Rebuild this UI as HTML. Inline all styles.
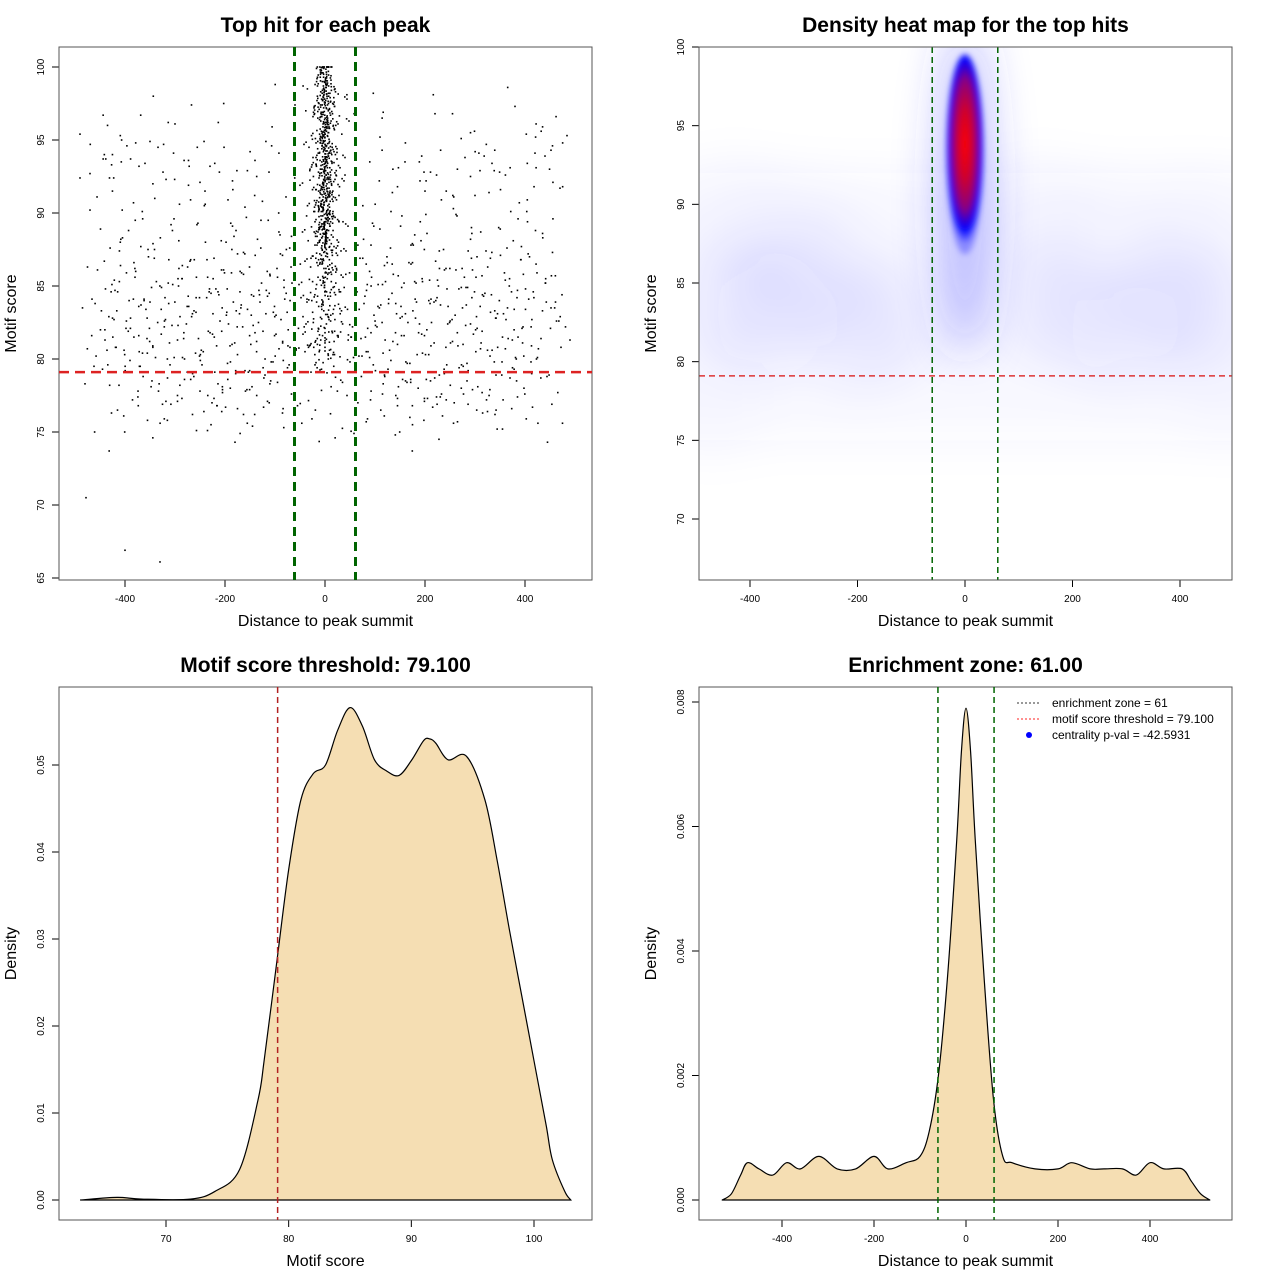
<!DOCTYPE html>
<html><head><meta charset="utf-8"><style>
html,body{margin:0;padding:0;background:#fff}
svg{display:block;font-family:"Liberation Sans",sans-serif}
</style></head><body>
<svg id="chart" width="1280" height="1280" viewBox="0 0 1280 1280" xmlns="http://www.w3.org/2000/svg">
<defs>
<filter id="blur8" filterUnits="userSpaceOnUse" x="0" y="0" width="1280" height="1280"><feGaussianBlur stdDeviation="22"/></filter>
<filter id="blur3" filterUnits="userSpaceOnUse" x="0" y="0" width="1280" height="1280"><feGaussianBlur stdDeviation="3"/></filter>
<radialGradient id="core" cx="0.5" cy="0.45" r="0.5">
<stop offset="0" stop-color="#ff0000"/>
<stop offset="0.35" stop-color="#d0002a"/>
<stop offset="0.65" stop-color="#8a0080"/>
<stop offset="0.85" stop-color="#0000ff"/>
<stop offset="1" stop-color="#0000ff" stop-opacity="0.3"/>
</radialGradient>
<clipPath id="clipTR"><rect x="699" y="47" width="533" height="533"/></clipPath>
</defs>
<g id="root"></g>
</svg>
<script>
// ---------- data ----------
const bgX = [-485,-470,-462,-455,-440,-431,-420,-412,-405,-398,-390,-380,-372,-365,-350,-341,-333,-320,-311,-302,-290,-281,-270,-262,-251,-240,-231,-222,-210,-201,-190,-182,-171,-160,-151,-140,-131,-120,-112,-101,-92,-85,-75,-66,-480,-466,-449,-436,-425,-409,-395,-383,-368,-356,-344,-327,-315,-306,-294,-285,-273,-258,-246,-236,-225,-214,-205,-193,-185,-175,-163,-155,-146,-135,-124,-115,-104,-96,-88,-78,-70,70,78,86,95,104,115,126,134,145,153,164,175,183,195,204,213,225,233,244,255,264,275,284,295,303,314,325,334,345,355,364,375,384,394,405,413,424,435,444,455,463,474,484,490,74,83,92,101,112,121,132,141,152,161,172,181,192,201,212,223,231,242,251,262,273,282,291,302,311,322,331,342,351,362,373,381,392,401,412,421,432,441,452,461,472,481,-475,-445,-415,-385,-355,-325,-295,-265,-235,-205,-175,-145,-115,-85,85,115,145,175,205,235,265,295,325,355,385,415,445,475,-250,340,-478,-400,-330,-180,-60,110,220,380,455,-490,-300,-120,160,280,420,-470,-350,-230,-140,190,310,440,-490,-360,-250,200,300,470];
const bgY = [83.5,90.2,79.5,86.1,81.3,92.4,84.7,78.2,88.3,82.1,79.9,85.6,93.2,80.4,83.9,87.5,77.8,84.2,81.1,89.6,82.9,78.6,86.7,83.3,80.2,91.5,84.8,77.3,82.6,85.9,80.9,88.4,83.1,79.2,86.3,81.8,84.4,78.9,92.8,83.6,80.7,87.1,79.4,85.2,78.3,84.1,88.9,80.6,82.8,86.4,79.1,90.7,83.7,81.4,87.9,84.9,78.7,82.3,85.5,80.1,93.6,83.2,79.6,86.8,81.7,84.6,77.9,82.4,89.1,80.3,85.8,83.4,78.1,88.2,81.9,84.3,79.8,86.2,82.7,91.1,80.8,86.9,83.8,80.5,89.3,82.2,85.1,79.3,84.5,91.8,81.6,78.4,86.6,83.9,80.4,88.6,82.5,85.4,77.6,84.8,81.2,89.8,83.5,79.7,86.1,82.9,85.7,80.6,93.4,83.1,81.5,87.6,79.4,84.2,82.1,89.4,80.9,85.9,83.3,78.8,87.3,82.6,84.4,95.3,81.3,80.2,84.7,87.8,82.3,79.1,85.3,90.1,81.8,83.6,78.5,86.5,82.8,88.1,80.3,84.1,77.4,83.7,86.2,81.1,89.9,79.6,84.9,82.4,85.6,80.7,87.4,83.2,78.9,91.6,82.7,84.6,80.1,86.8,83.4,79.8,88.8,81.4,85.2,94.3,83.9,80.8,82.2,86.3,79.3,76.5,77.2,75.8,76.9,77.5,76.2,75.1,77.7,76.6,75.4,77.1,76.3,75.9,77.6,76.8,75.5,77.3,76.1,75.7,77.9,76.4,75.2,77.4,76.7,74.3,75.6,77.8,76.2,70.5,66.9,66.1,74.3,97.4,95.2,96.8,97.3,94.6,95.4,96.1,97.5,93.5,93.8,94.1,92.7,94.9,93.2,93.6,92.2,92.9,93.9,92.4,93.4,92.1,91.5,91.2,91.7,91.3,91.1];
const clX = [-8,3,12,-15,21,-3,7,-22,15,-11,26,1,-27,9,-6,18,-18,4,30,-1,-12,13,-25,6,23,-9,-4,17,-20,10,-14,2,27,-7,14,-17,5,-2,19,-24,8,-10,24,0,-30,11,-5,16,-13,28,-19,3,-8,20,-16,6,-1,12,-26,22,-3,9,-21,15,-11,1,25,-6,13,-15,4,-23,18,-9,7,-2,29,-18,10,-12,2,-28,16,-4,21,-7,8,-14,0,19,-20,11,-5,14,-10,5,-16,23,-1,-35,40,-45,36,-38,48,-50,42,33,-33,-42,46,-48,52,38,-40,44,-36,35,-55,58,-52,55,-58,45,-44,31,-31,50];
const clY = [99.8,99.5,99.1,98.7,98.3,97.9,97.5,97.2,96.8,96.4,96.1,95.7,95.3,94.9,94.6,94.2,93.8,93.5,93.1,92.7,92.4,92.0,91.6,91.3,90.9,90.5,90.2,89.8,89.4,89.1,88.7,88.4,88.0,87.6,87.3,99.9,98.9,98.1,97.3,96.6,95.9,95.1,94.4,93.7,93.0,92.3,91.6,90.8,90.1,89.4,88.6,87.9,99.6,98.5,97.7,96.2,95.5,94.1,93.3,92.6,91.9,91.1,90.4,89.6,88.9,88.2,87.1,86.5,85.8,99.3,98.0,96.9,95.8,94.8,93.9,92.8,91.8,90.7,89.9,89.2,88.3,86.9,86.1,85.2,84.4,83.6,82.7,81.9,81.1,80.3,79.6,96.7,95.2,93.4,91.4,89.7,87.8,86.2,84.9,90.5,93.8,88.7,85.6,82.4,96.3,91.9,87.4,83.3,80.8,94.7,89.1,84.2,81.5,92.2,86.7,97.8,83.9,78.4,76.8,74.9,85.1,82.2,80.6,83.4,81.7,84.6,80.9,79.8];
const blobX = [0,-440,-360,-290,-200,-120,-430,-330,-230,120,210,300,380,450,140,260,420,-470,480];
const blobY = [93.5,84,83,85,82,83,89,88,87,84,83,82,84,83,89,88,88,78,79];
const blobW = [0,0.05,0.06,0.045,0.05,0.04,0.025,0.025,0.02,0.04,0.05,0.045,0.055,0.04,0.025,0.02,0.025,0.02,0.02];
const msX = [63,66,68,72,74,76,77.5,78,79,80,81,82,83,84,85,86,87,88,89,90,91,91.5,92,93,94.5,96,97,98,99,100,101,101.5,102.5,103];
const msY = [0,0.0003,0.0001,0.0001,0.001,0.0035,0.0115,0.016,0.027,0.038,0.046,0.049,0.05,0.054,0.0566,0.0545,0.0506,0.0493,0.0488,0.0505,0.0528,0.053,0.0525,0.0506,0.051,0.046,0.039,0.031,0.0235,0.016,0.0085,0.0046,0.001,0];
const dX = [-530,-510,-490,-475,-450,-420,-390,-360,-320,-280,-240,-200,-170,-130,-100,-80,-60,-40,-20,-10,0,10,20,40,60,80,100,150,200,230,270,300,340,370,400,430,470,490,510,530];
const dY = [0,0.0001,0.0004,0.0006,0.0005,0.0004,0.0006,0.0005,0.0007,0.0005,0.0005,0.0007,0.0005,0.0006,0.0007,0.0011,0.002,0.0036,0.0058,0.0072,0.0079,0.0072,0.0058,0.0035,0.0016,0.0007,0.0006,0.0005,0.0005,0.0006,0.0005,0.0005,0.0005,0.0004,0.0006,0.0005,0.0005,0.0003,0.0001,0];
const ticksTLx=[-400,-200,0,200,400], ticksTLy=[65,70,75,80,85,90,95,100];
const ticksTRx=[-400,-200,0,200,400], ticksTRy=[70,75,80,85,90,95,100];
const ticksBLx=[70,80,90,100], ticksBLy=[0,0.01,0.02,0.03,0.04,0.05];
const ticksBRx=[-400,-200,0,200,400], ticksBRy=[0,0.002,0.004,0.006,0.008];

// ---------- helpers ----------
const NS='http://www.w3.org/2000/svg';
const root=document.getElementById('root');
function mk(tag,attrs,parent,text){const e=document.createElementNS(NS,tag);for(const k in attrs)e.setAttribute(k,attrs[k]);if(text!==undefined)e.textContent=text;(parent||root).appendChild(e);return e;}
function lin(d0,d1,p0,p1){return v=>p0+(v-d0)*(p1-p0)/(d1-d0);}
function smooth(P){let d='M'+P[0][0].toFixed(1)+','+P[0][1].toFixed(1);
  for(let i=0;i<P.length-1;i++){const p0=P[Math.max(0,i-1)],p1=P[i],p2=P[i+1],p3=P[Math.min(P.length-1,i+2)];
    const c1=[p1[0]+(p2[0]-p0[0])/6,p1[1]+(p2[1]-p0[1])/6],c2=[p2[0]-(p3[0]-p1[0])/6,p2[1]-(p3[1]-p1[1])/6];
    d+=` C${c1[0].toFixed(1)},${c1[1].toFixed(1)} ${c2[0].toFixed(1)},${c2[1].toFixed(1)} ${p2[0].toFixed(1)},${p2[1].toFixed(1)}`;}
  return d+' Z';}

function panel(name,box,title,xt,yt,sx,sy,xticks,yticks,xfmt,yfmt){
  const g=mk('g',{});
  
  
  const t=mk('text',{x:(box[0]+box[2])/2,y:box[1]-15,'text-anchor':'middle','font-size':21,'font-weight':'bold'},g,title);
  
  
  const xa=mk('g',{},g);
  
  
  mk('line',{x1:sx(xticks[0]),x2:sx(xticks[xticks.length-1]),y1:box[3],y2:box[3],stroke:'#000'},xa);
  xticks.forEach(v=>{const x=sx(v);mk('line',{x1:x,x2:x,y1:box[3],y2:box[3]+7,stroke:'#000'},xa);
    const l=mk('text',{x:x,y:box[3]+22,'text-anchor':'middle','font-size':10},xa,xfmt(v));
    
    });
  const ya=mk('g',{},g);
  
  
  mk('line',{x1:box[0],x2:box[0],y1:sy(yticks[0]),y2:sy(yticks[yticks.length-1]),stroke:'#000'},ya);
  yticks.forEach(v=>{const y=sy(v);mk('line',{x1:box[0]-7,x2:box[0],y1:y,y2:y,stroke:'#000'},ya);
    const l=mk('text',{x:box[0]-15,y:y,'text-anchor':'middle','font-size':10,transform:`rotate(-90 ${box[0]-15} ${y})`},ya,yfmt(v));
    
    });
  const xl=mk('text',{x:(box[0]+box[2])/2,y:box[3]+46,'text-anchor':'middle','font-size':16},g,xt);
  
  
  const yx=box[0]-43, yy=(box[1]+box[3])/2;
  const yl=mk('text',{x:yx,y:yy,'text-anchor':'middle','font-size':16,transform:`rotate(-90 ${yx} ${yy})`},g,yt);
  
  
  return g;
}
function frame(g,box){const r=mk('rect',{x:box[0],y:box[1],width:box[2]-box[0],height:box[3]-box[1],fill:'none',stroke:'#555'},g);
  
  }
function vline(g,x,y0,y1,col,w,dash,name){const l=mk('line',{x1:x,x2:x,y1:y0,y2:y1,stroke:col,'stroke-width':w,'stroke-dasharray':dash},g);
  
  }
function hline(g,y,x0,x1,col,w,dash,name){const l=mk('line',{x1:x0,x2:x1,y1:y,y2:y,stroke:col,'stroke-width':w,'stroke-dasharray':dash},g);
  
  }
const intf=v=>String(v);

// ---------- Top-left scatter ----------
{const box=[59,47,592,580];
 const sx=lin(0,400,325,525), sy=lin(100,65,67,578);
 const g=panel('scatter-panel',box,'Top hit for each peak','Distance to peak summit','Motif score',sx,sy,ticksTLx,ticksTLy,intf,intf);
 const pts=mk('g',{fill:'#000'},g);
 
 
 const draw=(X,Y)=>{const n=Math.min(X.length,Y.length);for(let i=0;i<n;i++){
   const xv=X[i], yv=Y[i]; if(!isFinite(xv)||!isFinite(yv)||yv<65)continue;
   const p=mk('rect',{x:sx(xv)-0.8,y:sy(yv)-0.8,width:1.6,height:1.6},pts);
   
   }};
 draw(bgX,bgY); draw(clX,clY);
 // extra mirrored / shifted renderings of the same samples to reproduce point density
 draw(bgX.map(v=>-v*0.97),bgY.map(v=>v>72?v-0.6:NaN));
 draw(bgX.map(v=>v*0.93+12),bgY.map(v=>v>72?v+1.3:NaN));
 draw(bgX.map(v=>-v*0.88-9),bgY.map(v=>v>72?v+0.7:NaN));
 for(let k=0;k<6;k++){const s=[0.6,-0.8,0.35,-0.45,0.9,-0.2][k], o=[0.35,0.7,-0.3,1.0,0.15,-0.55][k];
   draw(clX.map(v=>v*s),clY.map(v=>Math.min(100,v+o)));}
 frame(g,box);
 vline(g,sx(-61),box[1],box[3],'#006400',3,'9 6','enrichment-left-line');
 vline(g,sx(61),box[1],box[3],'#006400',3,'9 6','enrichment-right-line');
 hline(g,sy(79.1),box[0],box[2],'#dd2222',2.5,'10 6','threshold-line');
}
// ---------- Top-right heat map ----------
{const box=[699,47,1232,580];
 const sx=lin(0,400,965,1180), sy=lin(100,70,47,519);
 const g=panel('heatmap-panel',box,'Density heat map for the top hits','Distance to peak summit','Motif score',sx,sy,ticksTRx,ticksTRy,intf,intf);
 const hm=mk('g',{'clip-path':'url(#clipTR)'},g);
 
 
 const bg=mk('g',{filter:'url(#blur8)'},hm);
 blobX.forEach((x,i)=>{if(i===0)return;
   const e=mk('ellipse',{cx:sx(x),cy:sy(blobY[i]),rx:55,ry:65,fill:'#3c3cff','fill-opacity':blobW[i]},bg);
   
   });
 const band=mk('rect',{x:640,y:sy(92),width:650,height:sy(75)-sy(92),fill:'#6a6aff','fill-opacity':0.04},bg);
 
 
 const cx=sx(blobX[0]), cy=sy(blobY[0]);
 const hg=mk('g',{filter:'url(#blur8)'},hm);
 const h=mk('ellipse',{cx:cx,cy:cy+40,rx:26,ry:165,fill:'#4040ff','fill-opacity':0.35},hg);
 
 
 const cg=mk('g',{filter:'url(#blur3)'},hm);
 const c=mk('ellipse',{cx:cx,cy:cy+5,rx:19,ry:100,fill:'url(#core)'},cg);
 
 
 vline(g,sx(-61),box[1],box[3],'#006400',1.5,'6 4','enrichment-left-line');
 vline(g,sx(61),box[1],box[3],'#006400',1.5,'6 4','enrichment-right-line');
 hline(g,sy(79.1),box[0],box[2],'#dd3333',1.5,'6 4','threshold-line');
 const fr=mk('rect',{x:box[0],y:box[1],width:533,height:533,fill:'none',stroke:'#555'},g);
 
 
}
// ---------- Bottom-left density ----------
{const box=[59,687,592,1220];
 const sx=lin(70,100,166,534), sy=lin(0,0.05,1200,765);
 const g=panel('score-density-panel',box,'Motif score threshold: 79.100','Motif score','Density',sx,sy,ticksBLx,ticksBLy,intf,v=>v.toFixed(2));
 const p=mk('path',{d:smooth(msX.map((x,i)=>[sx(x),sy(msY[i])])),fill:'#f5deb3',stroke:'#000','stroke-width':1.2},g);
 
 
 frame(g,box);
 vline(g,sx(79.1),box[1],box[3],'#b22222',1.5,'6 4','threshold-line');
}
// ---------- Bottom-right density ----------
{const box=[699,687,1232,1220];
 const sx=lin(0,400,966,1150), sy=lin(0,0.008,1200,702);
 const g=panel('distance-density-panel',box,'Enrichment zone: 61.00','Distance to peak summit','Density',sx,sy,ticksBRx,ticksBRy,intf,v=>v.toFixed(3));
 const p=mk('path',{d:smooth(dX.map((x,i)=>[sx(x),sy(dY[i])])),fill:'#f5deb3',stroke:'#000','stroke-width':1.2,'stroke-linejoin':'round'},g);
 
 
 frame(g,box);
 vline(g,sx(-61),box[1],box[3],'#006400',1.5,'6 4','enrichment-left-line');
 vline(g,sx(61),box[1],box[3],'#006400',1.5,'6 4','enrichment-right-line');
 const lg=mk('g',{},g);
 
 
 const items=[['enrichment zone = 61','#333','line'],['motif score threshold = 79.100','#ff2020','line'],['centrality p-val = -42.5931','#0000ff','dot']];
 items.forEach((it,i)=>{const y=703+i*16;
   const e=mk('g',{},lg);
   
   
   if(it[2]==='line')mk('line',{x1:1017,x2:1041,y1:y,y2:y,stroke:it[1],'stroke-dasharray':'2 2'},e);
   else mk('circle',{cx:1029,cy:y,r:3,fill:it[1]},e);
   mk('text',{x:1052,y:y+4,'font-size':12},e,it[0]);});
}
</script>
</body></html>
